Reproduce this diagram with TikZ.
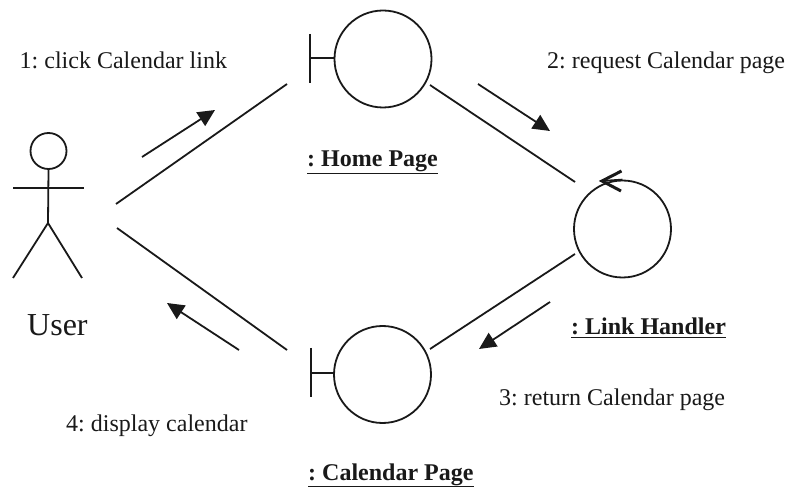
\documentclass[tikz,border=0pt]{standalone}
\usepackage{fontspec}
\setmainfont{Liberation Serif}
\usetikzlibrary{arrows.meta}
\tikzset{
  ln/.style={line width=1.8pt,black!90},
  lifeobj/.style={circle,draw,line width=1.8pt,black!90,minimum size=97pt,inner sep=0pt},
  msg/.style={line width=1.8pt,black!90,-{Triangle[length=17pt,width=16pt]}},
  lab/.style={inner sep=0pt,anchor=base west,font=\fontsize{24}{28}\selectfont,text=black!90},
  objname/.style={inner sep=0pt,anchor=base west,font=\fontsize{24}{28}\selectfont\bfseries,text=black!90}
}
\frenchspacing
\begin{document}
\begin{tikzpicture}[x=1pt,y=-1pt]
\useasboundingbox (0,0) rectangle (788,489);
% objects
\node[lifeobj] (home) at (383,59) {};
\node[lifeobj] (cal) at (382.5,374.5) {};
\node[lifeobj] (link) at (622.5,229) {};
% boundary ticks
\coordinate (hbar) at (310,58);
\coordinate (cbar) at (311,373);
\draw[ln] (hbar) -- (home.west |- hbar);
\draw[ln] (310,34) -- (310,83);
\draw[ln] (cbar) -- (cal.west |- cbar);
\draw[ln] (311,348) -- (311,397);
% self arrow on link handler
\coordinate (selftip) at (602,181);
\coordinate (selfa) at (621.5,171);
\coordinate (selfb) at (621,191);
\draw[line width=3pt,black!90] (selfa) -- (selftip) -- (selfb);
\draw[ln] (selftip) -- (link.north);
% actor
\node[circle,draw,line width=1.8pt,black!90,minimum size=36pt,inner sep=0pt] (head) at (48.5,151) {};
\coordinate (hip) at (48,223);
\coordinate (armL) at (13,188);
\coordinate (armR) at (84,188);
\coordinate (footL) at (13,278);
\coordinate (footR) at (82,278);
\draw[ln] (head.south) -- (hip);
\draw[ln] (armL) -- (armR);
\draw[ln] (footL) -- (hip) -- (footR);
% associations
\coordinate (a1) at (116,204);
\coordinate (a2) at (287,84);
\coordinate (b1) at (117,228);
\coordinate (b2) at (287,350);
\coordinate (c1) at (430,85);
\coordinate (c2) at (575,182);
\coordinate (d1) at (430,349);
\coordinate (d2) at (575,254);
\draw[ln] (a1) -- (a2);
\draw[ln] (b1) -- (b2);
\draw[ln] (c1) -- (c2);
\draw[ln] (d1) -- (d2);
% message arrows
\coordinate (m1a) at (142,157); \coordinate (m1b) at (215,110);
\coordinate (m2a) at (478,84);  \coordinate (m2b) at (550,131);
\coordinate (m3a) at (550,302); \coordinate (m3b) at (479,349);
\coordinate (m4a) at (239,350); \coordinate (m4b) at (167,303);
\draw[msg] (m1a) -- (m1b);
\draw[msg] (m2a) -- (m2b);
\draw[msg] (m3a) -- (m3b);
\draw[msg] (m4a) -- (m4b);
% labels
\node[lab] (t1) at (19.5,69) {1: click Calendar link};
\node[lab] (t2) at (547,69) {2: request Calendar page};
\node[lab] (t3) at (499,406) {3: return Calendar page};
\node[lab] (t4) at (66,431.5) {4: display calendar};
\node[lab,font=\fontsize{32}{38}\selectfont] (tu) at (27,336) {User};
\node[objname] (n1) at (307,166.5) {\underline{: Home Page}};
\node[objname] (n2) at (571,335) {\underline{: Link Handler}};
\node[objname] (n3) at (308,480) {\underline{: Calendar Page}};
\end{tikzpicture}
\end{document}
